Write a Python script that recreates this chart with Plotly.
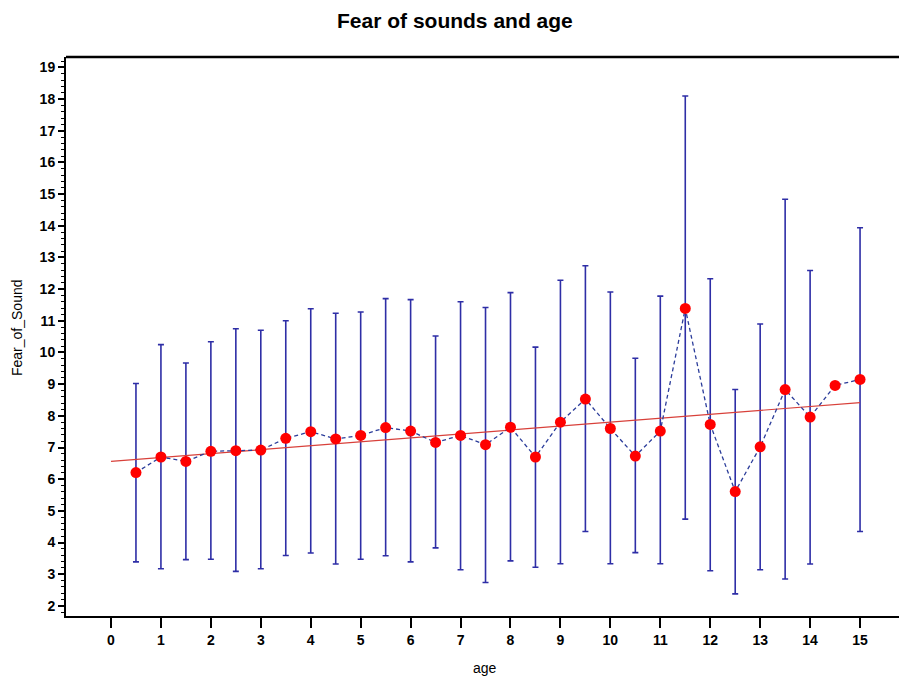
import plotly.graph_objects as go

# Mean fear-of-sound score by age, with the spread bars around each mean
age = [0.5, 1.0, 1.5, 2.0, 2.5, 3.0, 3.5, 4.0, 4.5, 5.0,
       5.5, 6.0, 6.5, 7.0, 7.5, 8.0, 8.5, 9.0, 9.5, 10.0,
       10.5, 11.0, 11.5, 12.0, 12.5, 13.0, 13.5, 14.0, 14.5, 15.0]
mean_score = [6.21, 6.70, 6.56, 6.88, 6.90, 6.92, 7.29, 7.50, 7.27, 7.38,
              7.63, 7.52, 7.16, 7.38, 7.09, 7.64, 6.70, 7.80, 8.53, 7.60,
              6.73, 7.52, 11.39, 7.73, 5.61, 7.02, 8.83, 7.96, 8.96, 9.15]
upper = [9.02, 10.25, 9.67, 10.34, 10.75, 10.70, 11.00, 11.38, 11.24, 11.28,
         11.70, 11.67, 10.52, 11.60, 11.42, 11.89, 10.17, 12.28, 12.74, 11.91,
         9.82, 11.78, 18.10, 12.33, 8.83, 10.90, 14.84, 12.59, None, 13.94]
lower = [3.39, 3.17, 3.46, 3.47, 3.09, 3.17, 3.59, 3.67, 3.32, 3.47,
         3.58, 3.39, 3.83, 3.14, 2.74, 3.42, 3.22, 3.33, 4.35, 3.33,
         3.68, 3.33, 4.74, 3.11, 2.38, 3.14, 2.85, 3.32, None, 4.35]

# Linear fit endpoints
fit_age = [0, 15]
fit_score = [6.56, 8.42]

x_ticks = list(range(0, 16))
y_ticks = list(range(2, 20))

err_plus = [None if u is None else u - m for u, m in zip(upper, mean_score)]
err_minus = [None if l is None else m - l for l, m in zip(lower, mean_score)]

BLUE = "#2E2EA6"
FONT = "Liberation Sans, Arial, sans-serif"
fig = go.Figure()

# Spread bars
fig.add_trace(go.Scatter(
    x=age, y=mean_score, mode="markers",
    marker=dict(size=1, color="rgba(0,0,0,0)"),
    error_y=dict(type="data", symmetric=False, array=err_plus, arrayminus=err_minus,
                 color=BLUE, thickness=1.6, width=3),
    showlegend=False, hoverinfo="skip",
))

# Fitted line
fig.add_trace(go.Scatter(
    x=fit_age, y=fit_score, mode="lines",
    line=dict(color="#D8403A", width=1.2),
    showlegend=False,
))

# Means joined by a dashed line
fig.add_trace(go.Scatter(
    x=age, y=mean_score, mode="lines+markers",
    line=dict(color="#2B3C9A", width=1.3, dash="4px,3px"),
    marker=dict(size=11, color="#FF0000"),
    showlegend=False,
))

axis_font = dict(family=FONT, size=14, color="black")

fig.update_layout(
    width=899, height=680,
    margin=dict(l=66, r=0, t=57, b=64),
    paper_bgcolor="white", plot_bgcolor="white",
    title=dict(text="<b>Fear of sounds and age</b>", x=0.506, xref="container",
               xanchor="center", y=1 - 21 / 680, yref="container", yanchor="middle",
               font=dict(family=FONT, size=21, color="black")),
    xaxis=dict(range=[-0.901, 15.78], tickvals=x_ticks,
               ticktext=[f"<b>{t}</b>" for t in x_ticks],
               ticks="outside", ticklen=10, tickwidth=1.5, tickcolor="black",
               showline=True, linecolor="black", linewidth=2, mirror=False,
               showgrid=False, zeroline=False, tickfont=axis_font),
    yaxis=dict(range=[1.68, 19.33], tickvals=y_ticks,
               ticktext=[f"<b>{t}</b>" for t in y_ticks],
               ticks="outside", ticklen=6, tickwidth=1.5, tickcolor="black",
               minor=dict(dtick=0.2, tick0=2, ticks="outside", ticklen=3,
                          tickwidth=1, tickcolor="black", showgrid=False),
               showline=True, linecolor="black", linewidth=2, mirror=False,
               showgrid=False, zeroline=False, tickfont=axis_font),
    shapes=[dict(type="line", xref="paper", yref="paper", x0=0, x1=1, y0=1, y1=1,
                 line=dict(color="black", width=2.5))],
    annotations=[
        dict(text="age", xref="paper", yref="paper", x=(485 - 66) / 833,
             y=-(668 - 616) / 559, xanchor="center", yanchor="middle", showarrow=False,
             font=dict(family=FONT, size=14, color="black")),
        dict(text="Fear_of_Sound", xref="paper", yref="paper", x=-(66 - 17) / 833,
             y=(616 - 328) / 559, xanchor="center", yanchor="middle", showarrow=False,
             textangle=-90,
             font=dict(family=FONT, size=14, color="black")),
    ],
)

fig.write_html("out.html")
